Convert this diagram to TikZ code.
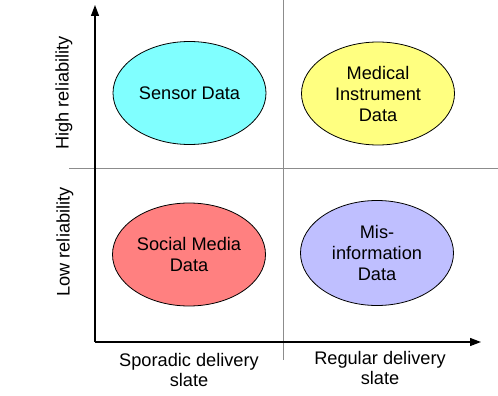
\documentclass[tikz,border=0pt]{standalone}
\usepackage{fontspec}
\setmainfont{Liberation Sans}
\usetikzlibrary{shapes.geometric,arrows.meta}
\definecolor{cyanfill}{HTML}{80FFFF}
\definecolor{yellowfill}{HTML}{FFFF80}
\definecolor{redfill}{HTML}{FF8080}
\definecolor{purplefill}{HTML}{BFBFFF}
\definecolor{gridgray}{HTML}{8C8C8C}
\begin{document}
\begin{tikzpicture}[x=1pt,y=-1pt,
  blob/.style={ellipse,draw=black,line width=0.8pt,minimum width=153pt,minimum height=103pt,inner sep=0pt,align=center,font=\fontsize{18.2}{21}\selectfont},
  axislabel/.style={align=center,font=\fontsize{18.2}{19.5}\selectfont},
  gridline/.style={draw=gridgray,line width=1pt},
  axisline/.style={draw=black,line width=1.3pt,-{Triangle[length=11pt,width=8pt]}}]
\useasboundingbox (0,0) rectangle (498,396);
% grid lines
\coordinate (vtop) at (283,0);
\coordinate (vbot) at (283,360);
\coordinate (hleft) at (69,168);
\coordinate (hright) at (498,168);
\draw[gridline] (vtop) -- (vbot);
\draw[gridline] (hleft) -- (hright);
% axes
\coordinate (origin) at (95,342);
\coordinate (ytip) at (95,5);
\coordinate (xtip) at (481,342);
\draw[axisline] (origin) -- (ytip);
\draw[axisline] (origin) -- (xtip);
% ellipses
\node[blob,fill=cyanfill] (sensor) at (189.5,93) {Sensor Data};
\node[blob,fill=yellowfill] (medical) at (378,93.5) {Medical\\Instrument\\Data};
\node[blob,fill=redfill] (social) at (189,254.5) {Social Media\\Data};
\node[blob,fill=purplefill,minimum height=105pt] (misinfo) at (377,253) {Mis-\\information\\Data};
% axis labels
\node[axislabel] (sporadic) at (189,370) {Sporadic delivery\\slate};
\node[axislabel] (regular) at (380,368) {Regular delivery\\slate};
\node[axislabel,rotate=90] (high) at (64,93) {High reliability};
\node[axislabel,rotate=90] (low) at (65,242) {Low reliability};
\end{tikzpicture}
\end{document}
